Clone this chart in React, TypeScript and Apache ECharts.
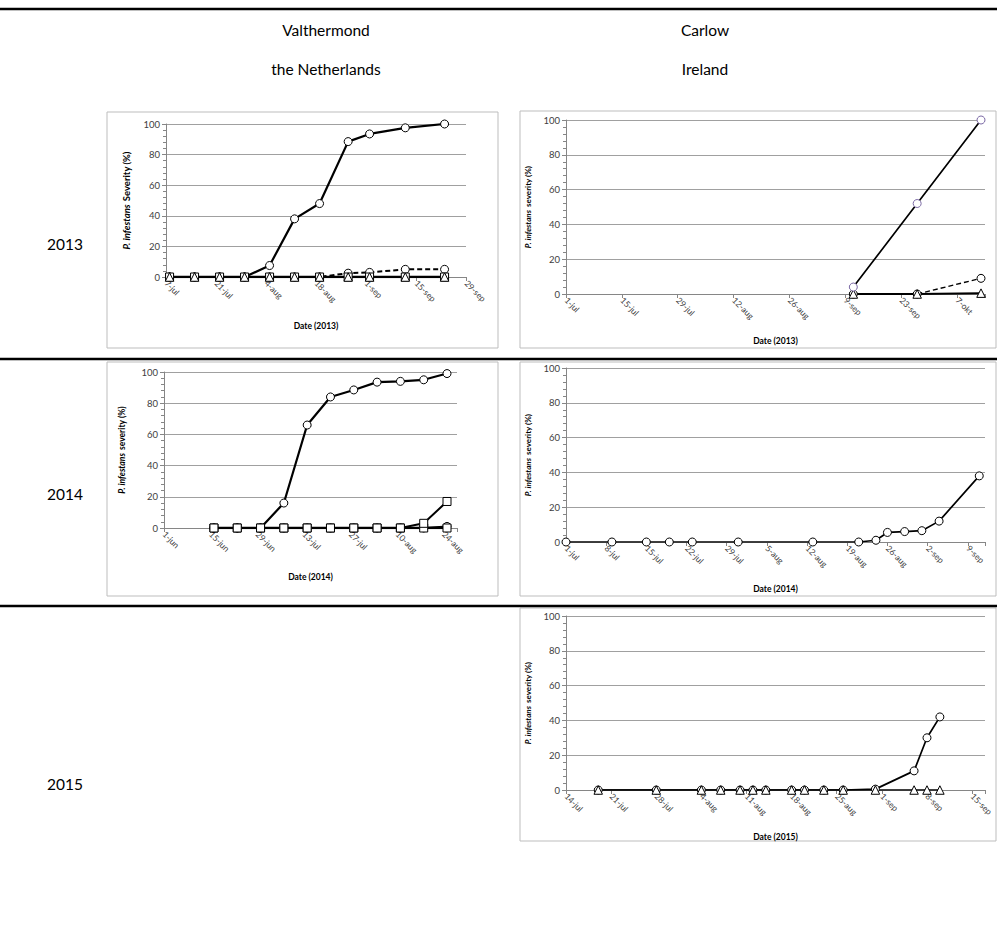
import React, { useEffect, useRef } from "react";
import * as echarts from "echarts";

const MONTHS = ["jan", "feb", "mrt", "apr", "mei", "jun", "jul", "aug", "sep", "okt", "nov", "dec"];
const FONT = "Lato, 'Liberation Sans', sans-serif";

// ---------- Valthermond 2013 ----------
const v13Start = "2013-07-07";
const v13End = "2013-09-29";
const v13Dates = ["2013-07-08", "2013-07-15", "2013-07-22", "2013-07-29", "2013-08-05", "2013-08-12", "2013-08-19", "2013-08-27", "2013-09-02", "2013-09-12", "2013-09-23"];
const v13CircleSolid = [0, 0, 0, 0, 7.5, 38, 48, 88.5, 93.5, 97.5, 100];
const v13CircleDashed = [0, 0, 0, 0, 0, 0, 0, 2.5, 3, 5, 5];
const v13Square = [0, 0, 0, 0, 0, 0, 0, 0, 0, 0, 0];
const v13Triangle = [0, 0, 0, 0, 0, 0, 0, 0, 0, 0, 0];

// ---------- Valthermond 2014 ----------
const v14Start = "2014-06-01";
const v14End = "2014-08-28";
const v14Dates = ["2014-06-16", "2014-06-23", "2014-06-30", "2014-07-07", "2014-07-14", "2014-07-21", "2014-07-28", "2014-08-04", "2014-08-11", "2014-08-18", "2014-08-25"];
const v14Circle = [0, 0, 0, 16, 66, 84, 88.5, 93.5, 94, 95, 99];
const v14CircleLow = [0, 0, 0, 0, 0, 0, 0, 0, 0, 0, 1];
const v14SquareA = [0, 0, 0, 0, 0, 0, 0, 0, 0, 3, 17];
const v14SquareB = [0, 0, 0, 0, 0, 0, 0, 0, 0, 0, 0];

// ---------- Carlow 2013 ----------
const c13Start = "2013-07-01";
const c13End = "2013-10-14";
const c13Dates = ["2013-09-11", "2013-09-27", "2013-10-13"];
const c13Circle = [4, 52, 100];
const c13CircleDashed = [0, 0, 9];
const c13Triangle = [0, 0, 0.5];

// ---------- Carlow 2014 ----------
const c14Start = "2014-07-01";
const c14End = "2014-09-12";
const c14Dates = ["2014-07-01", "2014-07-09", "2014-07-15", "2014-07-19", "2014-07-23", "2014-07-31", "2014-08-13", "2014-08-21", "2014-08-24", "2014-08-26", "2014-08-29", "2014-09-01", "2014-09-04", "2014-09-11"];
const c14Circle = [0, 0, 0, 0, 0, 0, 0, 0, 1, 5.5, 6, 6.5, 12, 38];

// ---------- Carlow 2015 ----------
const c15Start = "2015-07-14";
const c15End = "2015-09-17";
const c15Dates = ["2015-07-19", "2015-07-28", "2015-08-04", "2015-08-07", "2015-08-10", "2015-08-12", "2015-08-14", "2015-08-18", "2015-08-20", "2015-08-23", "2015-08-26", "2015-08-31", "2015-09-06", "2015-09-08", "2015-09-10"];
const c15Circle = [0, 0, 0, 0, 0, 0, 0, 0, 0, 0, 0, 0.5, 11, 30, 42];
const c15Triangle = [0, 0, 0, 0, 0, 0, 0, 0, 0, 0, 0, 0, 0, 0, 0];

// ---------- texts ----------
const siteNames = ["Valthermond", "Carlow"];
const countryNames = ["the Netherlands", "Ireland"];
const years = ["2013", "2014", "2015"];

const DAY = 86400000;
const toDay = (d: string, start: string) => Math.round((Date.parse(d) - Date.parse(start)) / DAY);
const fmt = (start: string, step: number) => (v: number) => {
  const r = Math.round(v);
  if (r % step !== 0) return "";
  const dt = new Date(Date.parse(start) + r * DAY);
  return `${dt.getUTCDate()}-${MONTHS[dt.getUTCMonth()]}`;
};

type S = { vals: number[]; symbol: string; dashed?: boolean; edge?: string; width?: number; skipZeroStart?: boolean };

function panel(
  idx: number,
  g: { left: number; top: number; width: number; height: number },
  start: string,
  end: string,
  step: number,
  dates: string[],
  series: S[],
  yName: string,
  yNameSize: number,
  xName: string,
  yGap: number,
  xGap: number
) {
  const grid = { left: g.left, top: g.top, width: g.width, height: g.height, outerBoundsMode: "none" };
  const xAxis = {
    gridIndex: idx,
    type: "value",
    min: 0,
    max: toDay(end, start),
    interval: step,
    axisLine: { show: true, onZero: false, lineStyle: { color: "#868686", width: 1 } },
    axisTick: { show: true, length: 4, lineStyle: { color: "#868686" } },
    splitLine: { show: false },
    axisLabel: { rotate: -45, fontSize: 8.5, color: "#404040", fontFamily: FONT, margin: 5, formatter: fmt(start, step), hideOverlap: false },
    name: xName,
    nameLocation: "middle",
    nameGap: xGap,
    nameTextStyle: { fontSize: 8.5, fontWeight: "bold", color: "#000", fontFamily: FONT },
  };
  const yAxis = {
    gridIndex: idx,
    type: "value",
    min: 0,
    max: 100,
    interval: 20,
    axisLine: { show: true, lineStyle: { color: "#868686", width: 1 } },
    axisTick: { show: true, length: 4, lineStyle: { color: "#868686" } },
    minorTick: { show: true, splitNumber: 5, length: 3, lineStyle: { color: "#868686" } },
    splitLine: { show: true, lineStyle: { color: "#a0a0a0", width: 1 } },
    axisLabel: { fontSize: 9.5, color: "#404040", fontFamily: FONT, margin: 6 },
    name: `{i|P. infestans} {b|${yName}}`,
    nameLocation: "middle",
    nameRotate: 90,
    nameGap: yGap,
    nameTextStyle: {
      rich: {
        i: { fontStyle: "italic", fontWeight: "bold", fontSize: yNameSize, color: "#000", fontFamily: FONT },
        b: { fontWeight: "bold", fontSize: yNameSize, color: "#000", fontFamily: FONT },
      },
    },
  };
  const ser = series.map((s) => ({
    type: "line",
    xAxisIndex: idx,
    yAxisIndex: idx,
    data: dates.map((d, k) => [toDay(d, start), s.vals[k]]),
    symbol: s.symbol,
    symbolSize: s.symbol === "triangle" ? 8.5 : 8,
    showAllSymbol: true,
    lineStyle: { color: "#000", width: s.width ?? 2, type: s.dashed ? [5, 3] : "solid" },
    itemStyle: { color: "#fff", borderColor: s.edge ?? "#000", borderWidth: 1 },
    emphasis: { disabled: true },
    z: 3,
  }));
  return { grid, xAxis, yAxis, series: ser };
}

export default function App() {
  const ref = useRef<HTMLDivElement>(null);
  useEffect(() => {
    if (!ref.current) return;
    const chart = echarts.init(ref.current, undefined, { renderer: "svg" });
    const panels = [
      panel(0, { left: 166, top: 124, width: 300, height: 153 }, v13Start, v13End, 14, v13Dates,
        [
          { vals: v13CircleSolid, symbol: "circle", width: 2.2 },
          { vals: v13CircleDashed, symbol: "circle", dashed: true },
          { vals: v13Square, symbol: "rect" },
          { vals: v13Triangle, symbol: "triangle", width: 2.4 },
        ], "Severity (%)", 9.5, "Date (2013)", 34, 44),
      panel(1, { left: 566, top: 120, width: 419, height: 174 }, c13Start, c13End, 14, c13Dates,
        [
          { vals: c13CircleDashed, symbol: "circle", dashed: true, width: 1.4 },
          { vals: c13Triangle, symbol: "triangle" },
          { vals: c13Circle, symbol: "circle", edge: "#7c6aa6", width: 1.7 },
        ], "severity (%)", 8, "Date (2013)", 32, 42),
      panel(2, { left: 164, top: 372, width: 293, height: 156 }, v14Start, v14End, 14, v14Dates,
        [
          { vals: v14Circle, symbol: "circle", width: 2.2 },
          { vals: v14CircleLow, symbol: "circle" },
          { vals: v14SquareB, symbol: "rect", width: 2.4 },
          { vals: v14SquareA, symbol: "rect" },
        ], "severity (%)", 8.5, "Date (2014)", 36, 44),
      panel(3, { left: 566, top: 368, width: 419, height: 174 }, c14Start, c14End, 7, c14Dates,
        [{ vals: c14Circle, symbol: "circle", width: 1.7 }], "severity (%)", 8, "Date (2014)", 32, 42),
      panel(4, { left: 566, top: 616, width: 419, height: 174 }, c15Start, c15End, 7, c15Dates,
        [
          { vals: c15Circle, symbol: "circle", width: 1.7 },
          { vals: c15Triangle, symbol: "triangle", width: 1.7 },
        ], "severity (%)", 8, "Date (2015)", 32, 42),
    ];

    const boxes = [
      [107, 112, 391, 236],
      [520, 111, 476, 237],
      [107, 362, 391, 234],
      [520, 362, 476, 234],
      [520, 608, 476, 233],
    ];
    const hLines = [9, 359, 606];
    const graphic: any[] = [];
    boxes.forEach(([x, y, w, h]) =>
      graphic.push({ type: "rect", shape: { x, y, width: w, height: h }, style: { fill: "none", stroke: "#bdbdbd", lineWidth: 1 }, silent: true, z: 0 })
    );
    hLines.forEach((y) =>
      graphic.push({ type: "line", shape: { x1: 0, y1: y, x2: 997, y2: y }, style: { stroke: "#000", lineWidth: 2.3 }, silent: true, z: 10 })
    );
    const headX = [326, 705];
    siteNames.forEach((t, i) =>
      graphic.push({ type: "text", x: headX[i], y: 30, style: { text: t, fontSize: 15.5, fontFamily: FONT, fill: "#000", align: "center", verticalAlign: "middle" }, silent: true })
    );
    countryNames.forEach((t, i) =>
      graphic.push({ type: "text", x: headX[i], y: 69, style: { text: t, fontSize: 15.5, fontFamily: FONT, fill: "#000", align: "center", verticalAlign: "middle" }, silent: true })
    );
    const yearY = [244, 494, 784];
    years.forEach((t, i) =>
      graphic.push({ type: "text", x: 65, y: yearY[i], style: { text: t, fontSize: 15.5, fontFamily: FONT, fill: "#000", align: "center", verticalAlign: "middle" }, silent: true })
    );

    chart.setOption({
      animation: false,
      backgroundColor: "#fff",
      textStyle: { fontFamily: FONT },
      grid: panels.map((p) => p.grid),
      xAxis: panels.map((p) => p.xAxis),
      yAxis: panels.map((p) => p.yAxis),
      series: panels.flatMap((p) => p.series),
      graphic,
    });
    return () => chart.dispose();
  }, []);
  return <div ref={ref} style={{ position: "absolute", left: 0, top: 0, width: 997, height: 929 }} />;
}
